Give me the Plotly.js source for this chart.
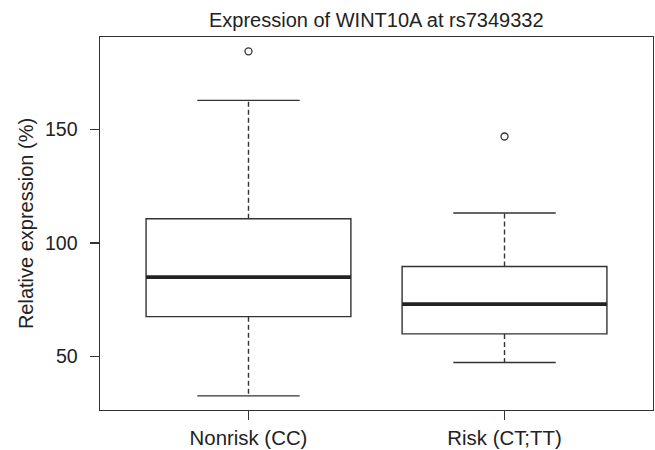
<!DOCTYPE html>
<html>
<head>
<meta charset="utf-8">
<script src="https://cdn.plot.ly/plotly-3.0.1.min.js"></script>
<style>html,body{margin:0;padding:0;background:#fff;}#chart{width:655px;height:450px;}</style>
</head>
<body>
<div id="chart"></div>
<script>
// Data
const groups = ["Nonrisk (CC)", "Risk (CT;TT)"];
const positions = [1, 2];
const lowerWhisker = [32.6, 47.3];
const q1 = [67.5, 59.9];
const median = [84.9, 73.0];
const q3 = [110.6, 89.6];
const upperWhisker = [162.7, 113.1];
const outliers = [[184.3], [146.8]];
const yTicks = [50, 100, 150];

const boxW = 0.8, capW = 0.4;
const lineCol = "#333333";
const traces = [];

positions.forEach((p, i) => {
  traces.push({
    type: "box", x: [p], q1: [q1[i]], median: [median[i]], q3: [q3[i]],
    lowerfence: [q1[i]], upperfence: [q3[i]], width: boxW,
    fillcolor: "rgba(255,255,255,0)", line: {color: lineCol, width: 1.4},
    boxpoints: false, hoverinfo: "skip", showlegend: false
  });
  traces.push({
    type: "scatter", mode: "lines", x: [p - boxW/2, p + boxW/2], y: [median[i], median[i]],
    line: {color: "#222222", width: 3.8}, hoverinfo: "skip", showlegend: false
  });
  traces.push({
    type: "scatter", mode: "lines", x: [p, p, null, p, p],
    y: [q3[i], upperWhisker[i], null, q1[i], lowerWhisker[i]],
    line: {color: lineCol, width: 1.4, dash: "5px,3px"}, hoverinfo: "skip", showlegend: false
  });
  traces.push({
    type: "scatter", mode: "lines",
    x: [p - capW/2, p + capW/2, null, p - capW/2, p + capW/2],
    y: [upperWhisker[i], upperWhisker[i], null, lowerWhisker[i], lowerWhisker[i]],
    line: {color: lineCol, width: 1.4}, hoverinfo: "skip", showlegend: false
  });
  traces.push({
    type: "scatter", mode: "markers", x: outliers[i].map(() => p), y: outliers[i],
    marker: {symbol: "circle-open", size: 7, color: lineCol, line: {width: 1.3, color: lineCol}},
    hoverinfo: "skip", showlegend: false
  });
});

const font = {family: "Liberation Sans, Arial, sans-serif", color: "#222222"};
const layout = {
  width: 655, height: 450,
  margin: {l: 100, r: 2, t: 37, b: 40},
  paper_bgcolor: "#ffffff", plot_bgcolor: "#ffffff",
  font: Object.assign({size: 20}, font),
  title: {text: "Expression of WINT10A at rs7349332", x: 0.5745, xanchor: "center", y: 0.955, yanchor: "middle",
          font: Object.assign({size: 20}, font)},
  xaxis: {
    range: [0.42, 2.58], tickvals: positions, ticktext: groups, automargin: false,
    showgrid: false, zeroline: false, showline: true, mirror: true,
    linecolor: lineCol, linewidth: 1.4, ticks: "outside", ticklen: 9, tickcolor: lineCol, tickwidth: 1.4,
    tickfont: Object.assign({size: 20.4}, font), ticklabelstandoff: 0
  },
  yaxis: {
    range: [26.4, 190.6], tickvals: yTicks, ticktext: yTicks.map(String), automargin: false,
    showgrid: false, zeroline: false, showline: true, mirror: true,
    linecolor: lineCol, linewidth: 1.4, ticks: "outside", ticklen: 9, tickcolor: lineCol, tickwidth: 1.4,
    tickfont: Object.assign({size: 19.6}, font), ticklabelstandoff: 8,
    title: {text: "Relative expression (%)", font: Object.assign({size: 20}, font), standoff: 6}
  }
};

Plotly.newPlot("chart", traces, layout, {staticPlot: true, displayModeBar: false});
</script>
</body>
</html>
